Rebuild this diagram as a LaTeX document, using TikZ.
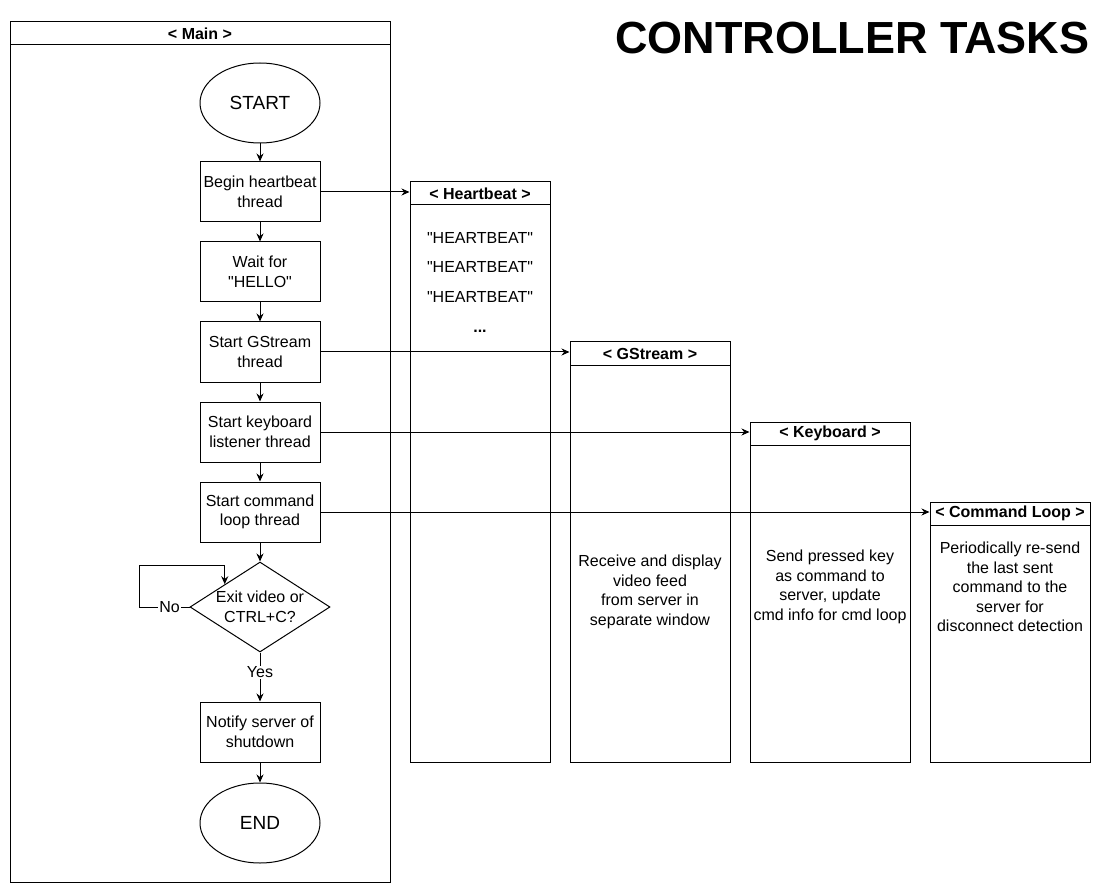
\documentclass[tikz,border=0pt]{standalone}
\usepackage{fontspec}
\setmainfont{Liberation Sans}[Ligatures=TeXOff]
\usetikzlibrary{shapes.geometric,arrows.meta}
\tikzset{
  body/.style={font=\fontsize{16}{19.5}\selectfont},
  stepbox/.style={draw, line width=1pt, minimum width=120pt, minimum height=60pt, inner sep=0pt, align=center, body},
  term/.style={draw, line width=1pt, ellipse, minimum width=120pt, minimum height=80pt, inner sep=0pt, font=\fontsize{19}{22}\selectfont},
  lane/.style={draw, line width=1pt, inner sep=0pt},
  lanehead/.style={draw, line width=1pt, inner sep=0pt, minimum height=23pt, font=\fontsize{16}{19}\selectfont\bfseries},
  plain/.style={inner sep=0pt, align=center, body},
  arr/.style={line width=1pt, -{Stealth[length=8pt,width=7pt]}},
  ln/.style={line width=1pt}
}
\begin{document}
\begin{tikzpicture}[x=1pt,y=-1pt]
\useasboundingbox (0,0) rectangle (1106,893);
\fill[white] (0,0) rectangle (1106,893);

% title
\node[anchor=east, inner sep=0pt, font=\fontsize{45}{50}\selectfont\bfseries] (title) at (1089.5,38.5) {CONTROLLER TASKS};

% Main lane
\node[lane, minimum width=380pt, minimum height=860pt] (mainlane) at (200,452) {};
\node[lanehead, minimum width=380pt] (mainhead) at (200,33.5) {< Main >};

% Heartbeat lane
\node[lane, minimum width=140pt, minimum height=580pt] (hblane) at (480,472) {};
\node[lanehead, minimum width=140pt] (hbhead) at (480,193.5) {< Heartbeat >};
\node[plain] (hb1) at (480,238) {"HEARTBEAT"};
\node[plain] (hb2) at (480,267) {"HEARTBEAT"};
\node[plain] (hb3) at (480,297) {"HEARTBEAT"};
\node[plain, font=\fontsize{16}{19}\selectfont\bfseries] (hb4) at (480,331) {...};

% GStream lane
\node[lane, minimum width=160pt, minimum height=420pt] (gslane) at (650,552) {};
\node[lanehead, minimum width=160pt] (gshead) at (650,353.5) {< GStream >};
\node[plain] (gstext) at (650,592) {Receive and display\\video feed\\from server in\\separate window};

% Keyboard lane
\node[lane, minimum width=160pt, minimum height=340pt] (kblane) at (830,592) {};
\node[lanehead, minimum width=160pt] (kbhead) at (830,433.5) {< Keyboard >};
\node[plain] (kbtext) at (830,587) {Send pressed key\\as command to\\server, update\\cmd info for cmd loop};

% Command loop lane
\node[lane, minimum width=160pt, minimum height=260pt] (cllane) at (1010,632) {};
\node[lanehead, minimum width=160pt] (clhead) at (1010,513.5) {< Command Loop >};
\node[plain] (cltext) at (1010,587) {Periodically re-send\\the last sent\\command to the\\server for\\disconnect detection};

% Main flow
\node[term] (start) at (260,103) {START};
\node[stepbox] (hb) at (260,192) {Begin heartbeat\\thread};
\node[stepbox] (hello) at (260,272) {Wait for\\"HELLO"};
\node[stepbox] (gs) at (260,352) {Start GStream\\thread};
\node[stepbox] (kb) at (260,432) {Start keyboard\\listener thread};
\node[stepbox] (cl) at (260,512) {Start command\\loop thread};
\node[draw, line width=1pt, diamond, minimum width=140pt, minimum height=90pt, inner sep=0pt] (dia) at (260,607) {};
\node[plain] (diatext) at (260,607) {Exit video or\\CTRL+C?};
\node[stepbox] (notify) at (260,732) {Notify server of\\shutdown};
\node[term] (end) at (260,823) {END};

\draw[arr] (start) -- (hb);
\draw[arr] (hb) -- (hello);
\draw[arr] (hello) -- (gs);
\draw[arr] (gs) -- (kb);
\draw[arr] (kb) -- (cl);
\draw[arr] (cl) -- (dia);
\draw[arr] (dia) -- node[fill=white, inner sep=1pt, body, pos=0.4] {Yes} (notify);
\draw[arr] (notify) -- (end);
\draw[arr] (dia.west) -- node[fill=white, inner sep=1pt, body, pos=0.4] {No} ++(-50,0) -- ++(0,-42) -| (dia.north west);

\draw[arr] (hb.east) -- (hb.east -| hbhead.west);
\draw[arr] (gs.east) -- (gs.east -| gshead.west);
\draw[arr] (kb.east) -- (kb.east -| kbhead.west);
\draw[arr] (cl.east) -- (cl.east -| clhead.west);
\end{tikzpicture}
\end{document}
